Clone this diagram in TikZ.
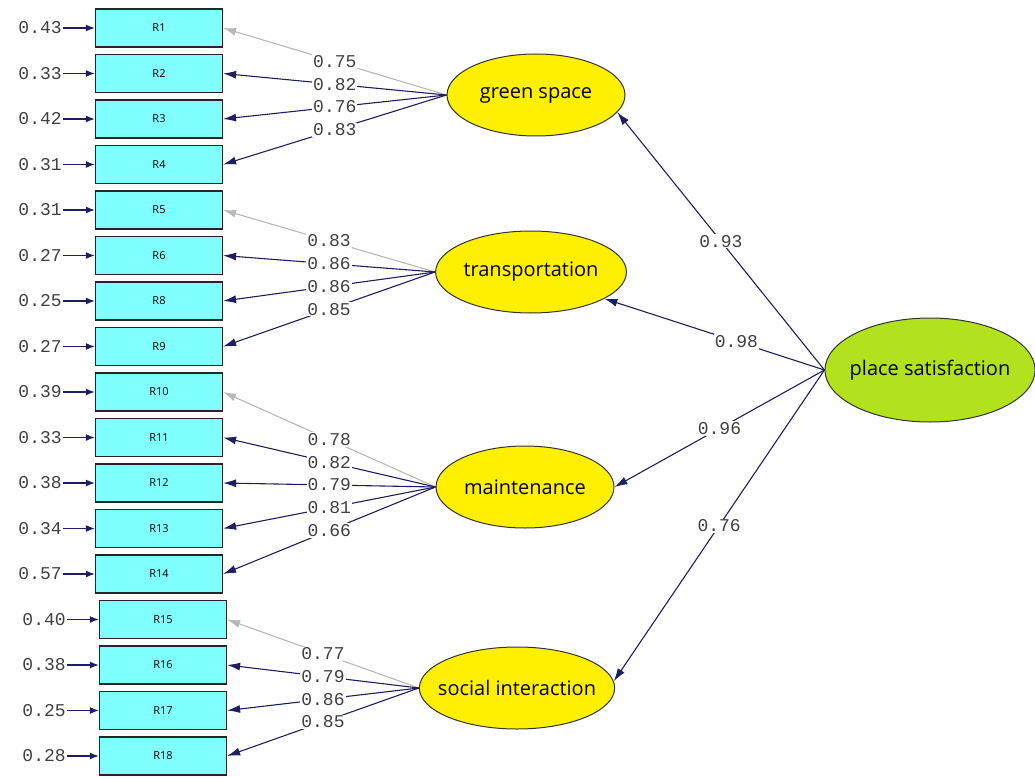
\documentclass[tikz,border=0pt]{standalone}
\usepackage{fontspec}
\setmainfont{Open Sans}
\setmonofont{Liberation Mono}
\usetikzlibrary{shapes.geometric,arrows.meta}
\definecolor{navy}{HTML}{1E1E62}
\definecolor{boxcyan}{HTML}{80FFFF}
\definecolor{latyellow}{HTML}{FFF000}
\definecolor{latlime}{HTML}{B2E21E}
\definecolor{faintgray}{HTML}{B8B8B8}
\tikzset{
	obsbox/.style={draw=black!85, fill=boxcyan, line width=1.2pt, minimum width=127pt, minimum height=38pt, font=\fontsize{11}{11}\selectfont},
	latent/.style={ellipse, draw=black!80, line width=1pt, fill=latyellow, minimum width=178pt, minimum height=82pt, inner sep=0pt, font=\fontsize{20}{20}\selectfont},
	errlab/.style={font=\ttfamily\fontsize{18}{18}\selectfont, text=black!75, anchor=east, inner sep=1pt},
	coef/.style={font=\ttfamily\fontsize{18}{18}\selectfont, text=black!75, fill=white, inner sep=1pt},
	load/.style={draw=navy, line width=1.1pt, -{Latex[length=13pt,width=8pt]}},
	faint/.style={draw=faintgray, line width=1.1pt, -{Latex[length=13pt,width=8pt]}},
	errarrow/.style={draw=navy, line width=1.4pt, -{Latex[length=9pt,width=7pt]}}
}
\begin{document}
\begin{tikzpicture}[x=1pt,y=-1pt]
	\useasboundingbox (0,0) rectangle (1035,778);
	% observed items with their error terms
	\foreach \lab/\err [count=\i from 0] in {1/0.43,2/0.33,3/0.42,4/0.31,5/0.31,6/0.27,8/0.25,9/0.27,10/0.39,11/0.33,12/0.38,13/0.34,14/0.57,15/0.40,16/0.38,17/0.25,18/0.28}
	{
		\node[obsbox] (r\lab) at ({159+4*(\i>12)},{28+45.5*\i}) {R\lab};
		\node[errlab] (e\lab) at ([xshift=-32pt]r\lab.west) {\err};
		\draw[errarrow] (e\lab) -- (r\lab);
	}
	% latent factors
	\node[latent] (gs) at (536,95) {green space};
	\node[latent] (tr) at (531,272) {transportation};
	\node[latent] (mt) at (525,487) {maintenance};
	\node[latent, inner xsep=-10pt] (si) at (517,688) {social interaction};
	\node[latent, fill=latlime, inner xsep=-6pt, minimum width=204pt, minimum height=104pt] (ps) at (930,370) {place satisfaction};
	% loadings
	\foreach \f/\t/\v/\s in {gs/1/0.75/faint,gs/2/0.82/load,gs/3/0.76/load,gs/4/0.83/load,
		tr/5/0.83/faint,tr/6/0.86/load,tr/8/0.86/load,tr/9/0.85/load,
		mt/10/0.78/faint,mt/11/0.82/load,mt/12/0.79/load,mt/13/0.81/load,mt/14/0.66/load,
		si/15/0.77/faint,si/16/0.79/load,si/17/0.86/load,si/18/0.85/load}
		\draw[\s] (\f.west) -- node[coef] {\v} (r\t.east);
	% second order paths
	\draw[load] (ps.west) -- node[coef] {0.93} (gs.-12);
	\draw[load] (ps.west) -- node[coef, pos=0.4] {0.98} (tr.-20);
	\draw[load] (ps.west) -- node[coef] {0.96} (mt.east);
	\draw[load] (ps.west) -- node[coef] {0.76} (si.4);
\end{tikzpicture}
\end{document}
